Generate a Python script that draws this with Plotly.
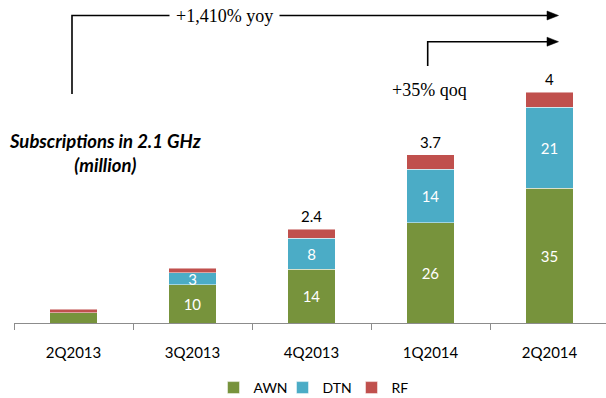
import plotly.graph_objects as go

categories = ["2Q2013", "3Q2013", "4Q2013", "1Q2014", "2Q2014"]
awn = [2.6, 10, 14, 26, 35]
dtn = [0, 3, 8, 14, 21]
rf = [1.0, 1.2, 2.4, 3.7, 4]
awn_labels = ["", "10", "14", "26", "35"]
dtn_labels = ["", "3", "8", "14", "21"]
rf_labels = ["", "", "2.4", "3.7", "4"]

W, H = 606, 398
ML, MR, MT, MB = 14, 0, 0, 75
PW, PH = W - ML - MR, H - MT - MB


def px(x):
    return (x - ML) / PW


def py(y):
    return (H - MB - y) / PH


SANS = "Lato, Calibri, sans-serif"
SERIF = "Liberation Serif, Cambria, serif"
GREEN, BLUE, RED = "#77933C", "#4BACC6", "#C0504D"

fig = go.Figure()
for name, vals, labels, color in [
    ("AWN", awn, awn_labels, GREEN),
    ("DTN", dtn, dtn_labels, BLUE),
    ("RF", rf, None, RED),
]:
    fig.add_trace(go.Bar(
        name=name, x=categories, y=vals,
        marker=dict(color=color, line=dict(color="rgba(255,255,255,0.6)", width=0.8)),
        text=labels, textposition="inside" if labels else "none",
        insidetextanchor="middle", textangle=0,
        textfont=dict(family=SANS, size=15, color="white"),
        hoverinfo="skip",
    ))

annotations = []
totals = [a + d + r for a, d, r in zip(awn, dtn, rf)]
for c, t, lab in zip(categories, totals, rf_labels):
    if lab:
        annotations.append(dict(x=c, y=t, text=lab, showarrow=False, yanchor="bottom",
                                yshift=2, font=dict(family=SANS, size=15, color="black")))

annotations.append(dict(x=px(105), y=py(153), xref="paper", yref="paper",
                        text="<b><i>Subscriptions in 2.1 GHz<br>(million)</i></b>",
                        showarrow=False, xanchor="center", yanchor="middle",
                        align="center", font=dict(family=SANS, size=18.5, color="black")))
annotations.append(dict(x=px(224), y=py(16), xref="paper", yref="paper",
                        text="+1,410% yoy", showarrow=False, xanchor="center", yanchor="middle",
                        bgcolor="white", borderpad=6,
                        font=dict(family=SERIF, size=18, color="black")))
annotations.append(dict(x=px(429.5), y=py(90), xref="paper", yref="paper",
                        text="+35% qoq", showarrow=False, xanchor="center", yanchor="middle",
                        font=dict(family=SERIF, size=18, color="black")))


def path(points):
    return "M " + " L ".join(f"{px(x):.5f},{py(y):.5f}" for x, y in points)


shapes = [
    dict(type="path", xref="paper", yref="paper", layer="below",
         path=path([(72, 94), (72, 15.5), (550, 15.5)]), line=dict(color="black", width=1.6)),
    dict(type="path", xref="paper", yref="paper",
         path=path([(547, 11), (558.5, 15.5), (547, 20)]) + " Z",
         fillcolor="black", line=dict(color="black", width=0.5)),
    dict(type="path", xref="paper", yref="paper",
         path=path([(427.7, 66), (427.7, 41.7), (550, 41.7)]), line=dict(color="black", width=1.6)),
    dict(type="path", xref="paper", yref="paper",
         path=path([(547, 37.2), (558.5, 41.7), (547, 46.2)]) + " Z",
         fillcolor="black", line=dict(color="black", width=0.5)),
]

fig.update_layout(
    width=W, height=H,
    margin=dict(l=ML, r=MR, t=MT, b=MB, autoexpand=False),
    barmode="stack", bargap=0.6,
    plot_bgcolor="white", paper_bgcolor="white",
    uniformtext=dict(minsize=14, mode="show"),
    showlegend=True,
    legend=dict(orientation="h", x=px(317), xanchor="center", y=py(388), yanchor="middle",
                font=dict(family=SANS, size=14, color="black"), itemwidth=30,
                entrywidth=24, entrywidthmode="pixels",
                traceorder="normal"),
    annotations=annotations, shapes=shapes,
    xaxis=dict(range=[-0.5, 4.5 - (609 - 606) / 119], showline=True, linecolor="#8c8c8c",
               linewidth=1, ticks="outside", tickson="boundaries", ticklen=6,
               tickcolor="#8c8c8c", tickfont=dict(family=SANS, size=15, color="black"),
               ticklabelstandoff=16, showgrid=False, fixedrange=True, automargin=False),
    yaxis=dict(range=[0, PH / 3.85], visible=False, showgrid=False, fixedrange=True),
)

fig.write_html("out.html", config={"displayModeBar": False},
               post_script="document.body.style.margin='0';document.body.style.overflow='hidden';")
